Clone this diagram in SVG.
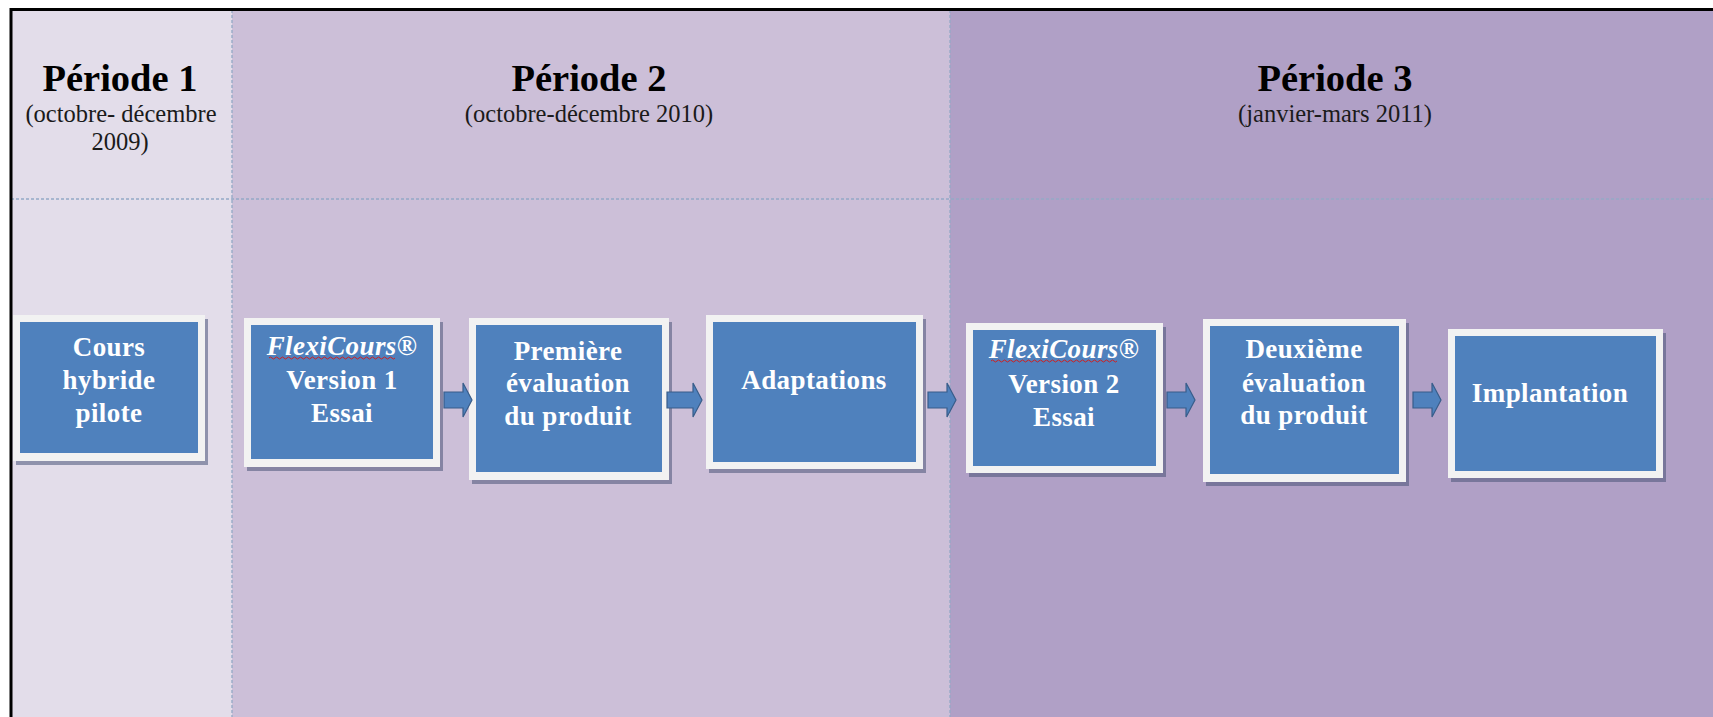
<svg xmlns="http://www.w3.org/2000/svg" width="1713" height="717" viewBox="0 0 1713 717">
<defs>
<style>
.ttl{font-family:"Liberation Serif","Times New Roman",serif;font-weight:bold;font-size:38.5px;fill:#000;text-anchor:middle}
.sub{font-family:"Liberation Serif","Times New Roman",serif;font-size:24.5px;fill:#1a1a1a;text-anchor:middle}
.bt{font-family:"Liberation Serif","Times New Roman",serif;font-weight:bold;font-size:27px;fill:#fff;text-anchor:middle;letter-spacing:0.4px}
.it{font-style:italic}
.sh{fill:#4a5378;opacity:0.55}
.fr{fill:#F2F2F2}
.in{fill:#4F81BD}
.arr{fill:#4F81BD;stroke:#385D8A;stroke-width:1.2}
.dot{stroke:#94A9C6;stroke-width:1.3;stroke-dasharray:3 2;fill:none}
.sq{stroke:#D02020;stroke-width:1;fill:none}
</style>
</defs>
<rect width="1713" height="717" fill="#fff"/>
<g id="columns">
<rect x="11" y="9" width="221" height="708" fill="#E3DDEA"/>
<rect x="232" y="9" width="718" height="708" fill="#CCBFD8"/>
<rect x="950" y="9" width="763" height="708" fill="#B0A0C6"/>
<line class="dot" x1="232" y1="10" x2="232" y2="717"/>
<line class="dot" x1="950" y1="10" x2="950" y2="717"/>
<line class="dot" x1="11" y1="199" x2="1713" y2="199"/>
<path d="M11,717 V9.5 H1713" fill="none" stroke="#000" stroke-width="3"/>
</g>
<g id="period1">
<text class="ttl" x="120" y="91">Période 1</text>
<text class="sub" x="121" y="122">(octobre- décembre</text>
<text class="sub" x="120" y="150">2009)</text>
</g>
<g id="period2">
<text class="ttl" x="589" y="91">Période 2</text>
<text class="sub" x="589" y="122">(octobre-décembre 2010)</text>
</g>
<g id="period3">
<text class="ttl" x="1335" y="91">Période 3</text>
<text class="sub" x="1335" y="122">(janvier-mars 2011)</text>
</g>
<g id="n1">
<rect class="sh" x="16" y="319" width="192" height="146"/>
<rect class="fr" x="13" y="315" width="192" height="146"/>
<rect class="in" x="20" y="322" width="178" height="131"/>
<text class="bt" x="109" y="356">Cours</text>
<text class="bt" x="109" y="389">hybride</text>
<text class="bt" x="109" y="422">pilote</text>
</g>
<g id="n2">
<rect class="sh" x="247" y="322" width="196" height="149"/>
<rect class="fr" x="244" y="318" width="196" height="149"/>
<rect class="in" x="251" y="325" width="182" height="134"/>
<text class="bt it" x="342" y="355">FlexiCours®</text>
<path class="sq" d="M269,358 q1.5,-2 3,0 t3,0 t3,0 t3,0 t3,0 t3,0 t3,0 t3,0 t3,0 t3,0 t3,0 t3,0 t3,0 t3,0 t3,0 t3,0 t3,0 t3,0 t3,0 t3,0 t3,0 t3,0 t3,0 t3,0 t3,0 t3,0 t3,0 t3,0 t3,0 t3,0 t3,0 t3,0 t3,0 t3,0 t3,0 t3,0 t3,0 t3,0 t3,0 t3,0 t3,0 t3,0"/>
<text class="bt" x="342" y="389">Version 1</text>
<text class="bt" x="342" y="422">Essai</text>
</g>
<g id="n3">
<rect class="sh" x="472" y="322" width="200" height="162"/>
<rect class="fr" x="469" y="318" width="200" height="162"/>
<rect class="in" x="476" y="325" width="186" height="147"/>
<text class="bt" x="568" y="360">Première</text>
<text class="bt" x="568" y="392">évaluation</text>
<text class="bt" x="568" y="425">du produit</text>
</g>
<g id="n4">
<rect class="sh" x="709" y="319" width="217" height="154"/>
<rect class="fr" x="706" y="315" width="217" height="154"/>
<rect class="in" x="713" y="322" width="203" height="140"/>
<text class="bt" x="814" y="389">Adaptations</text>
</g>
<g id="n5">
<rect class="sh" x="969" y="327" width="197" height="150"/>
<rect class="fr" x="966" y="323" width="197" height="150"/>
<rect class="in" x="973" y="330" width="183" height="136"/>
<text class="bt it" x="1064" y="358">FlexiCours®</text>
<path class="sq" d="M991,361 q1.5,-2 3,0 t3,0 t3,0 t3,0 t3,0 t3,0 t3,0 t3,0 t3,0 t3,0 t3,0 t3,0 t3,0 t3,0 t3,0 t3,0 t3,0 t3,0 t3,0 t3,0 t3,0 t3,0 t3,0 t3,0 t3,0 t3,0 t3,0 t3,0 t3,0 t3,0 t3,0 t3,0 t3,0 t3,0 t3,0 t3,0 t3,0 t3,0 t3,0 t3,0 t3,0 t3,0"/>
<text class="bt" x="1064" y="393">Version 2</text>
<text class="bt" x="1064" y="426">Essai</text>
</g>
<g id="n6">
<rect class="sh" x="1206" y="323" width="203" height="163"/>
<rect class="fr" x="1203" y="319" width="203" height="163"/>
<rect class="in" x="1210" y="326" width="189" height="148"/>
<text class="bt" x="1304" y="358">Deuxième</text>
<text class="bt" x="1304" y="392">évaluation</text>
<text class="bt" x="1304" y="424">du produit</text>
</g>
<g id="n7">
<rect class="sh" x="1451" y="333" width="215" height="149"/>
<rect class="fr" x="1448" y="329" width="215" height="149"/>
<rect class="in" x="1455" y="336" width="201" height="135"/>
<text class="bt" x="1550" y="402">Implantation</text>
</g>
<g id="connectors">
<path class="arr" d="M444,392 H463 V383 L472,400 L463,417 V408 H444 Z"/>
<path class="arr" d="M667,392 H693 V383 L702,400 L693,417 V408 H667 Z"/>
<path class="arr" d="M928,392 H947 V383 L956,400 L947,417 V408 H928 Z"/>
<path class="arr" d="M1167,392 H1186 V383 L1195,400 L1186,417 V408 H1167 Z"/>
<path class="arr" d="M1413,392 H1432 V383 L1441,400 L1432,417 V408 H1413 Z"/>
</g>
</svg>
